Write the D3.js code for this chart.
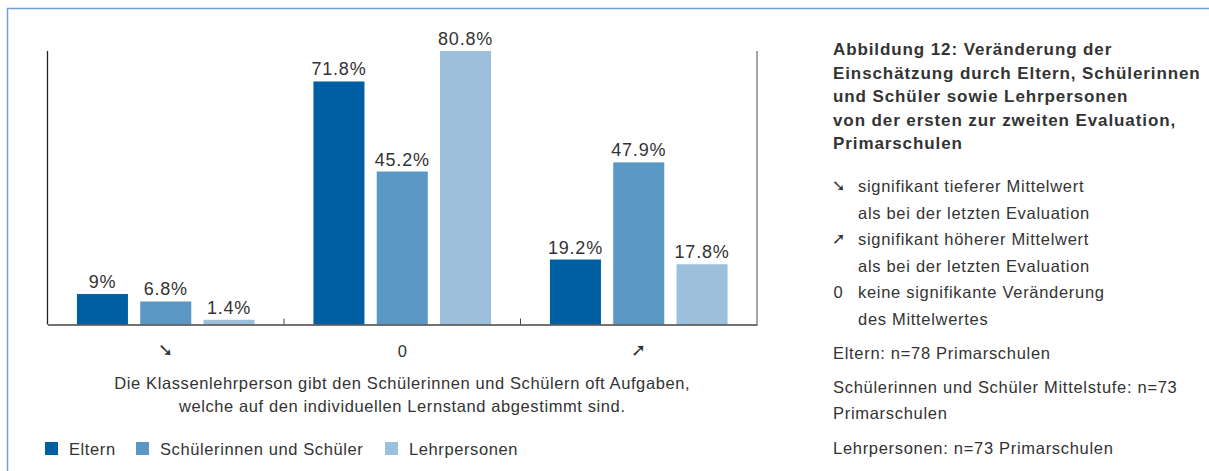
<!DOCTYPE html>
<html>
<head>
<meta charset="utf-8">
<script src="https://cdn.jsdelivr.net/npm/d3@7"></script>
<style>
  body { margin: 0; background: #fff; }
  svg text { font-family: "Liberation Sans", Arial, sans-serif; fill: #333; }
</style>
</head>
<body>
<div id="chart"></div>
<script>
var categories = ["\u2798", "0", "\u279A"];
var seriesNames = ["Eltern", "Schülerinnen und Schüler", "Lehrpersonen"];
var eltern = [9, 71.8, 19.2];
var schueler = [6.8, 45.2, 47.9];
var lehrer = [1.4, 80.8, 17.8];
var valueLabels = [["9%", "6.8%", "1.4%"], ["71.8%", "45.2%", "80.8%"], ["19.2%", "47.9%", "17.8%"]];
var colors = ["#005ea3", "#5a97c4", "#9cc0db"];

var axisTitle = ["Die Klassenlehrperson gibt den Schülerinnen und Schülern oft Aufgaben,",
                 "welche auf den individuellen Lernstand abgestimmt sind."];
var titleLines = ["Abbildung 12: Veränderung der",
                  "Einschätzung durch Eltern, Schülerinnen",
                  "und Schüler sowie Lehrpersonen",
                  "von der ersten zur zweiten Evaluation,",
                  "Primarschulen"];
var keyLines = [["\u2798", "signifikant tieferer Mittelwert"], ["", "als bei der letzten Evaluation"],
                ["\u279A", "signifikant höherer Mittelwert"], ["", "als bei der letzten Evaluation"],
                ["0", "keine signifikante Veränderung"], ["", "des Mittelwertes"]];
var notes = [[353, "Eltern: n=78 Primarschulen"],
             [387, "Schülerinnen und Schüler Mittelstufe: n=73"],
             [413, "Primarschulen"],
             [448, "Lehrpersonen: n=73 Primarschulen"]];

var width = 1209, height = 471;
var plotLeft = 47.5, plotRight = 757, plotTop = 51, base = 324.5;

var svg = d3.select("#chart").append("svg")
    .attr("width", width)
    .attr("height", height);

// outer frame (top and left)
svg.append("path")
    .attr("d", "M7.5," + height + "V8.5H" + width)
    .attr("fill", "none")
    .attr("stroke", "#6f9fd4")
    .attr("stroke-width", 1.5);

var x0 = d3.scaleBand().domain(categories).range([plotLeft, plotRight]);
var x1 = d3.scaleBand().domain(seriesNames).range([0, x0.bandwidth()])
    .paddingInner(0.194).paddingOuter(0.465);
var y = d3.scaleLinear().domain([0, 80.8]).range([base, plotTop]);

var rows = categories.map(function(c, i) {
    return [eltern[i], schueler[i], lehrer[i]].map(function(v, j) {
        return {cat: c, s: seriesNames[j], v: v, label: valueLabels[i][j], j: j};
    });
});

var group = svg.selectAll(".grp")
    .data(rows)
    .enter()
    .append("g")
    .attr("class", "grp")
    .attr("transform", function(d, i) { return "translate(" + x0(categories[i]) + ",0)"; });

group.selectAll("rect")
    .data(function(d) { return d; })
    .enter()
    .append("rect")
    .attr("x", function(d) { return x1(d.s); })
    .attr("y", function(d) { return y(d.v); })
    .attr("width", x1.bandwidth())
    .attr("height", function(d) { return base - y(d.v); })
    .attr("fill", function(d) { return colors[d.j]; });

group.selectAll("text")
    .data(function(d) { return d; })
    .enter()
    .append("text")
    .attr("x", function(d) { return x1(d.s) + x1.bandwidth() / 2; })
    .attr("y", function(d) { return y(d.v) - 6; })
    .attr("text-anchor", "middle")
    .attr("font-size", 18)
    .attr("letter-spacing", 0.8)
    .text(function(d) { return d.label; });

// frame lines of the plot
svg.append("line").attr("x1", plotLeft).attr("x2", plotLeft).attr("y1", plotTop).attr("y2", base)
    .attr("stroke", "#222").attr("stroke-width", 1.3);
svg.append("line").attr("x1", plotRight).attr("x2", plotRight).attr("y1", plotTop).attr("y2", base)
    .attr("stroke", "#777").attr("stroke-width", 1.3);

// x axis
var xAxis = svg.append("g")
    .attr("transform", "translate(0," + base + ")")
    .call(d3.axisBottom(x0).tickSize(0).tickPadding(21));
xAxis.select(".domain").attr("stroke", "#444").attr("stroke-width", 1.3);
xAxis.selectAll(".tick text")
    .attr("font-size", function(d) { return d === "0" ? 16.5 : 18; })
    .attr("font-family", function(d) { return d === "0" ? null : "DejaVu Sans"; })
    .attr("dy", function(d) { return d === "0" ? "0.71em" : "0.6em"; })
    .attr("fill", "#111");
svg.selectAll(".sep")
    .data(categories.slice(1))
    .enter()
    .append("line")
    .attr("x1", function(d) { return x0(d); })
    .attr("x2", function(d) { return x0(d); })
    .attr("y1", base - 6)
    .attr("y2", base)
    .attr("stroke", "#444");

svg.selectAll(".atitle")
    .data(axisTitle)
    .enter()
    .append("text")
    .attr("x", (plotLeft + plotRight) / 2)
    .attr("y", function(d, i) { return 389 + i * 22.5; })
    .attr("text-anchor", "middle")
    .attr("font-size", 16.5)
    .attr("letter-spacing", 0.6)
    .text(function(d) { return d; });

// legend
var legend = svg.selectAll(".leg")
    .data(seriesNames)
    .enter()
    .append("g")
    .attr("transform", function(d, i) { return "translate(" + [45, 136, 385][i] + ",442)"; });
legend.append("rect").attr("width", 13).attr("height", 13)
    .attr("fill", function(d, i) { return colors[i]; });
legend.append("text").attr("x", 24).attr("y", 12.5).attr("font-size", 16.5)
    .attr("letter-spacing", 0.6)
    .text(function(d) { return d; });

// right side text
svg.selectAll(".title")
    .data(titleLines)
    .enter()
    .append("text")
    .attr("x", 833)
    .attr("y", function(d, i) { return 55 + i * 23.5; })
    .attr("font-size", 17)
    .attr("font-weight", "bold")
    .attr("letter-spacing", 0.9)
    .attr("fill", "#111")
    .text(function(d) { return d; });

var key = svg.selectAll(".key")
    .data(keyLines)
    .enter()
    .append("g")
    .attr("transform", function(d, i) { return "translate(0," + (192 + i * 26.5) + ")"; });
key.append("text").attr("x", 838).attr("text-anchor", "middle")
    .attr("font-size", function(d) { return d[0] === "0" ? 16.5 : 16; })
    .attr("font-family", function(d) { return d[0] === "0" ? null : "DejaVu Sans"; })
    .attr("dy", function(d) { return d[0] === "0" ? 0 : -1; })
    .attr("fill", "#111")
    .text(function(d) { return d[0]; });
key.append("text").attr("x", 858).attr("font-size", 16.5)
    .attr("letter-spacing", 0.7)
    .text(function(d) { return d[1]; });

svg.selectAll(".note")
    .data(notes)
    .enter()
    .append("text")
    .attr("x", 833)
    .attr("y", function(d) { return d[0] + 6; })
    .attr("font-size", 16.5)
    .attr("letter-spacing", 0.7)
    .text(function(d) { return d[1]; });
</script>
</body>
</html>
